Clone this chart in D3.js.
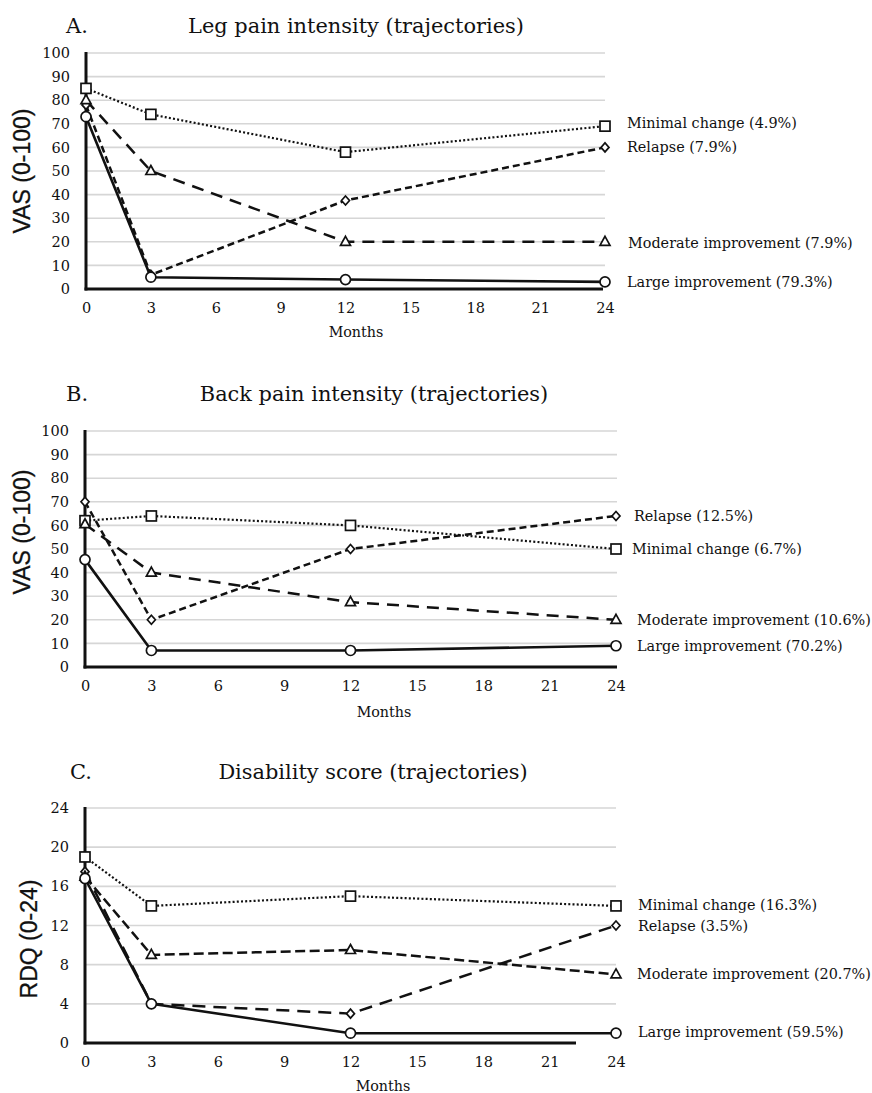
<!DOCTYPE html>
<html>
<head>
<meta charset="utf-8">
<script src="https://cdn.jsdelivr.net/npm/d3@7"></script>
<style>
  html, body { margin: 0; padding: 0; background: #fff; }
  svg { display: block; }
</style>
</head>
<body>
<svg id="chart" width="872" height="1093"></svg>
<script>
// ---------- DATA ----------
const timepoints = [0, 3, 12, 24];
const monthTicks = [0, 3, 6, 9, 12, 15, 18, 21, 24];
const vasTicks = [0, 10, 20, 30, 40, 50, 60, 70, 80, 90, 100];
const rdqTicks = [0, 4, 8, 12, 16, 20, 24];
const seriesKeys = ["minimal", "relapse", "moderate", "large"];

// A. Leg pain intensity
const legMinimal  = [85, 74, 58, 69];
const legRelapse  = [78, 6, 37.5, 60];
const legModerate = [80, 50, 20, 20];
const legLarge    = [73, 5, 4, 3];
const legLabels   = ["Minimal change (4.9%)", "Relapse (7.9%)", "Moderate improvement (7.9%)", "Large improvement (79.3%)"];

// B. Back pain intensity
const backMinimal  = [62, 64, 60, 50];
const backRelapse  = [70, 20, 50, 64];
const backModerate = [60.5, 40, 27.5, 20];
const backLarge    = [45.5, 7, 7, 9];
const backLabels   = ["Minimal change (6.7%)", "Relapse (12.5%)", "Moderate improvement (10.6%)", "Large improvement (70.2%)"];

// C. Disability score
const rdqMinimal  = [19, 14, 15, 14];
const rdqRelapse  = [17.5, 4, 3, 12];
const rdqModerate = [17, 9, 9.5, 7];
const rdqLarge    = [16.8, 4, 1, 1];
const rdqLabels   = ["Minimal change (16.3%)", "Relapse (3.5%)", "Moderate improvement (20.7%)", "Large improvement  (59.5%)"];

const panelTitles = ["Leg pain intensity (trajectories)", "Back pain intensity (trajectories)", "Disability score (trajectories)"];
const panelLetters = ["A.", "B.", "C."];
const yTitles = ["VAS (0-100)", "VAS (0-100)", "RDQ (0-24)"];
const xTitle = "Months";

// ---------- STYLE ----------
const serif = "'DejaVu Serif', serif";
const sans = "'Liberation Sans', Arial, sans-serif";
const lineWidths = { minimal: 2.2, relapse: 2.5, moderate: 2.5, large: 2.6 };
const dashAB = { minimal: "2,2.2", relapse: "7,4", moderate: "12,8", large: null };
const dashC  = { minimal: "2,2.2", relapse: "13,8", moderate: "10,4.5", large: null };

const svg = d3.select("#chart");

function drawPanel(cfg) {
  const g = svg.append("g");
  const x = d3.scaleLinear().domain([0, 24]).range([cfg.x0, cfg.x1]);
  const y = d3.scaleLinear().domain([0, cfg.ymax]).range([cfg.yb, cfg.yt]);

  // letter + title
  g.append("text").attr("x", cfg.letterX).attr("y", cfg.titleY)
    .attr("font-family", serif).attr("font-size", 21).attr("fill", "#111")
    .text(cfg.letter);
  g.append("text").attr("x", cfg.titleX).attr("y", cfg.titleY)
    .attr("text-anchor", "middle")
    .attr("font-family", serif).attr("font-size", 20.9).attr("fill", "#111")
    .text(cfg.title);

  // gridlines
  g.append("g").selectAll("line").data(cfg.yTicks.filter(d => d > 0)).join("line")
    .attr("x1", cfg.x0).attr("x2", cfg.gridEnd)
    .attr("y1", d => y(d)).attr("y2", d => y(d))
    .attr("stroke", "#d6d6d6").attr("stroke-width", 1.6);

  // y axis via d3.axisLeft (labels only)
  const yAxis = g.append("g").attr("transform", `translate(${cfg.x0 - 16},0)`)
    .call(d3.axisLeft(y).tickValues(cfg.yTicks).tickSize(0).tickPadding(0));
  yAxis.select(".domain").remove();
  yAxis.selectAll("text").attr("font-family", serif).attr("font-size", 14.5).attr("fill", "#111");

  // x axis via d3.axisBottom (labels only)
  const xAxis = g.append("g").attr("transform", `translate(0,${cfg.yb + 14})`)
    .call(d3.axisBottom(x).tickValues(monthTicks).tickSize(0).tickPadding(0));
  xAxis.select(".domain").remove();
  xAxis.selectAll("text").attr("font-family", serif).attr("font-size", 14.5).attr("fill", "#111")
    .attr("dy", "0.71em");

  // axis lines
  g.append("line").attr("x1", cfg.x0).attr("x2", cfg.x0)
    .attr("y1", y(cfg.ymax) - 1).attr("y2", cfg.yb + 1.5)
    .attr("stroke", "#111").attr("stroke-width", 3);
  g.append("line").attr("x1", cfg.x0 - 1.5).attr("x2", cfg.axisEnd)
    .attr("y1", cfg.yb).attr("y2", cfg.yb)
    .attr("stroke", "#111").attr("stroke-width", 3);

  // axis titles
  g.append("text").attr("x", cfg.monthsX).attr("y", cfg.monthsY)
    .attr("text-anchor", "middle").attr("font-family", serif).attr("font-size", 14.3).attr("fill", "#111")
    .text(xTitle);
  g.append("text")
    .attr("transform", `translate(${cfg.yTitleX},${cfg.yTitleY}) rotate(-90)`)
    .attr("text-anchor", "middle").attr("font-family", sans).attr("font-size", 23).attr("fill", "#111")
    .attr("stroke", "#111").attr("stroke-width", 0.3)
    .text(cfg.yTitle);

  const line = d3.line().x((d, i) => x(timepoints[i])).y(d => y(d));

  // lines
  cfg.series.forEach((vals, si) => {
    const key = seriesKeys[si];
    g.append("path").datum(vals).attr("d", line)
      .attr("fill", "none").attr("stroke", "#111")
      .attr("stroke-width", lineWidths[key])
      .attr("stroke-dasharray", cfg.dash[key])
      .attr("stroke-linejoin", "round");
  });

  // markers
  cfg.series.forEach((vals, si) => {
    const key = seriesKeys[si];
    const mg = g.append("g");
    vals.forEach((v, i) => {
      const cx = x(timepoints[i]), cy = y(v);
      let el;
      if (key === "minimal") {
        el = mg.append("rect").attr("x", cx - 5).attr("y", cy - 5).attr("width", 10).attr("height", 10);
      } else if (key === "relapse") {
        el = mg.append("path").attr("d", `M${cx},${cy - 4.5}L${cx + 4},${cy}L${cx},${cy + 4.5}L${cx - 4},${cy}Z`);
      } else if (key === "moderate") {
        el = mg.append("path").attr("d", `M${cx},${cy - 5.5}L${cx + 5},${cy + 3.5}L${cx - 5},${cy + 3.5}Z`);
      } else {
        el = mg.append("circle").attr("cx", cx).attr("cy", cy).attr("r", 5);
      }
      el.attr("fill", "#fff").attr("stroke", "#111").attr("stroke-width", 1.7);
    });
  });

  // end labels
  cfg.series.forEach((vals, si) => {
    g.append("text")
      .attr("x", x(24) + cfg.labelDx[si])
      .attr("y", y(vals[vals.length - 1]) + cfg.labelDy[si])
      .attr("dy", "0.35em")
      .attr("font-family", serif).attr("font-size", 14.4).attr("fill", "#111")
      .text(cfg.labels[si]);
  });
}

drawPanel({
  letter: panelLetters[0], title: panelTitles[0], yTitle: yTitles[0],
  x0: 86, x1: 605, gridEnd: 605, axisEnd: 603, yt: 53, yb: 289, ymax: 100, yTicks: vasTicks,
  letterX: 66, titleX: 356, titleY: 33,
  monthsX: 356, monthsY: 337, yTitleX: 30, yTitleY: 171,
  series: [legMinimal, legRelapse, legModerate, legLarge], labels: legLabels, dash: dashAB,
  labelDx: [22, 22, 23, 22], labelDy: [-3, 0, 1.5, 0]
});

drawPanel({
  letter: panelLetters[1], title: panelTitles[1], yTitle: yTitles[1],
  x0: 85, x1: 616, gridEnd: 617, axisEnd: 617, yt: 431, yb: 667, ymax: 100, yTicks: vasTicks,
  letterX: 66, titleX: 374, titleY: 401,
  monthsX: 384, monthsY: 717, yTitleX: 30, yTitleY: 532,
  series: [backMinimal, backRelapse, backModerate, backLarge], labels: backLabels, dash: dashAB,
  labelDx: [16, 18, 21, 21], labelDy: [0, 0, 0, 0]
});

drawPanel({
  letter: panelLetters[2], title: panelTitles[2], yTitle: yTitles[2],
  x0: 85, x1: 616, gridEnd: 616, axisEnd: 576, yt: 808, yb: 1043, ymax: 24, yTicks: rdqTicks,
  letterX: 70, titleX: 373, titleY: 779,
  monthsX: 383, monthsY: 1091, yTitleX: 37, yTitleY: 939,
  series: [rdqMinimal, rdqRelapse, rdqModerate, rdqLarge], labels: rdqLabels, dash: dashC,
  labelDx: [22, 22, 21, 22], labelDy: [-1, 0, 0, -1]
});
</script>
</body>
</html>
